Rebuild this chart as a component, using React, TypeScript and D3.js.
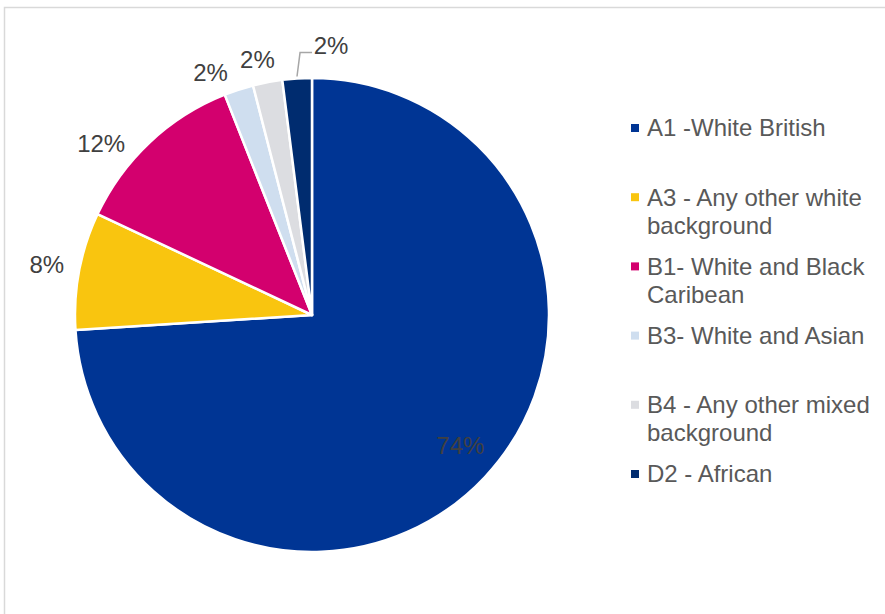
import React from "react";
import * as d3 from "d3";

const categories = [
  "A1 -White British",
  "A3 - Any other white background",
  "B1- White and Black Caribean",
  "B3- White and Asian",
  "B4 - Any other mixed background",
  "D2 - African",
];
const values = [74, 8, 12, 2, 2, 2];
const valueLabels = ["74%", "8%", "12%", "2%", "2%", "2%"];
const legendLines = [
  ["A1 -White British"],
  ["A3 - Any other white", "background"],
  ["B1- White and Black", "Caribean"],
  ["B3- White and Asian"],
  ["B4 - Any other mixed", "background"],
  ["D2 - African"],
];
const colors = ["#003594", "#f9c50f", "#d3006e", "#cfdeef", "#dcdde1", "#002c6f"];

// layout (not data)
const W = 885, H = 614;
const CX = 312, CY = 315, R = 237;
const FONT = "'Liberation Sans', Arial, sans-serif";
const labelNudge = [
  [4, -5],
  [0, 0],
  [-26, 25],
  [-18, 14],
  [-4, 10],
  [36, 0],
];

export default function App() {
  const pie = d3.pie<number>().sort(null).value((d) => d);
  const arcs = pie(values);
  const arc = d3.arc<d3.PieArcDatum<number>>().innerRadius(0).outerRadius(R);
  const outerLabelArc = d3.arc<d3.PieArcDatum<number>>().innerRadius(270).outerRadius(270);
  const innerLabelArc = d3.arc<d3.PieArcDatum<number>>().innerRadius(198).outerRadius(198);
  const edgeArc = d3.arc<d3.PieArcDatum<number>>().innerRadius(R + 2).outerRadius(R + 2);

  const legendY = d3.scaleLinear().domain([0, categories.length - 1]).range([128, 474]);

  return (
    <div style={{ position: "fixed", left: 0, top: 0, width: W, height: H, background: "#fff" }}>
      <svg width={W} height={H} style={{ display: "block" }}>
        <rect x={0} y={0} width={W} height={H} fill="#fff" />
        <path d={`M4.5,${H} L4.5,7.5 L${W},7.5`} fill="none" stroke="#d9d9d9" strokeWidth={1.5} />
        <g transform={`translate(${CX},${CY})`}>
          {arcs.map((a, i) => (
            <path key={categories[i]} d={arc(a) || ""} fill={colors[i]} stroke="#fff" strokeWidth={2.5} strokeLinejoin="round" />
          ))}
          {arcs.map((a, i) => {
            const inside = i === 0;
            const [bx, by] = inside ? innerLabelArc.centroid(a) : outerLabelArc.centroid(a);
            const x = bx + labelNudge[i][0];
            const y = by + labelNudge[i][1];
            const leader = i === 5 ? (() => {
              const [ex, ey] = edgeArc.centroid(a);
              return `M${ex},${ey} L${x - 31},${y + 7} L${x - 19},${y + 7}`;
            })() : null;
            return (
              <g key={"l" + i}>
                {leader && <path d={leader} fill="none" stroke="#a6a6a6" strokeWidth={1.5} />}
                <text
                  x={x}
                  y={y}
                  dy="0.35em"
                  textAnchor="middle"
                  fontFamily={FONT}
                  fontSize={24}
                  fill="#404040"
                >
                  {valueLabels[i]}
                </text>
              </g>
            );
          })}
        </g>
        <g>
          {legendLines.map((lines, i) => {
            const y0 = legendY(i);
            return (
              <g key={"lg" + i}>
                <rect x={631} y={y0 - 4} width={8} height={8} fill={colors[i]} />
                {lines.map((ln, j) => (
                  <text
                    key={j}
                    x={647}
                    y={y0 + j * 28}
                    dy="0.35em"
                    fontFamily={FONT}
                    fontSize={24}
                    fill="#595959"
                  >
                    {ln}
                  </text>
                ))}
              </g>
            );
          })}
        </g>
      </svg>
    </div>
  );
}
